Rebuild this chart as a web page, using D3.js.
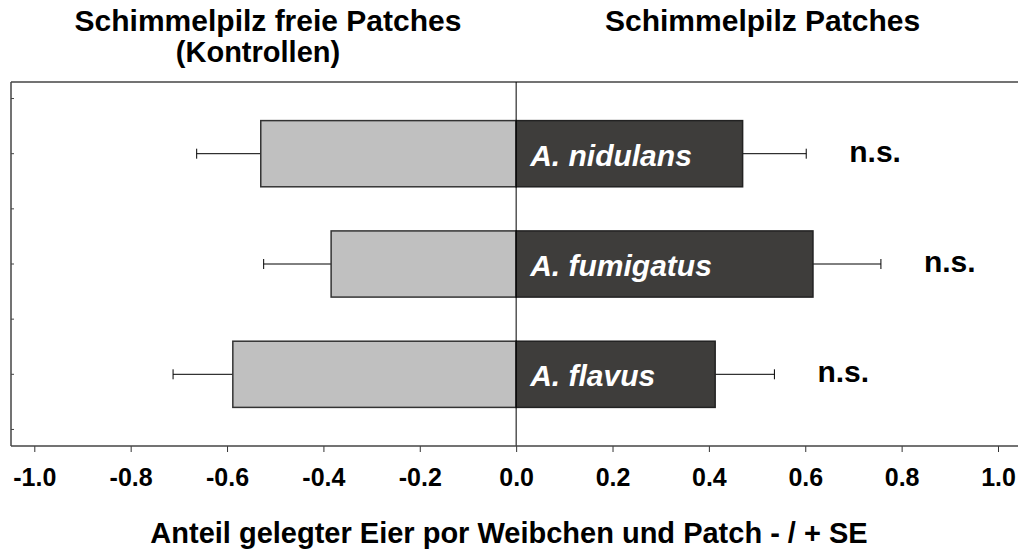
<!DOCTYPE html>
<html>
<script src="https://d3js.org/d3.v7.min.js"></script>
<style>
    body { margin: 0; background: white; }
    text { font-family: "Liberation Sans", Arial, Helvetica, sans-serif; font-weight: bold; }
</style>
<body>
<svg width="1018" height="550"></svg>
<script>
    // data
    const species = ["A. nidulans", "A. fumigatus", "A. flavus"];
    const controlMean = [-0.53, -0.384, -0.588];
    const controlSE = [0.133, 0.14, 0.124];
    const moldMean = [0.47, 0.616, 0.413];
    const moldSE = [0.132, 0.141, 0.123];
    const sigLabels = ["n.s.", "n.s.", "n.s."];
    const xTicks = [-1.0, -0.8, -0.6, -0.4, -0.2, 0.0, 0.2, 0.4, 0.6, 0.8, 1.0];

    const svg = d3.select('svg');

    const plotL = 11, plotR = 1018, plotT = 82, plotB = 446;

    const x = d3.scaleLinear().domain([-1, 1]).range([34.3, 998]);
    // rows sit at 1,2,3 on a hidden numeric axis
    const y = d3.scaleLinear().domain([0.35, 3.65]).range([plotT, plotB]);
    const barH = y(0.6) - y(0);

    const rows = species.map((s, i) => ({
        name: s, pos: i + 1,
        cm: controlMean[i], cse: controlSE[i],
        mm: moldMean[i], mse: moldSE[i],
        sig: sigLabels[i]
    }));

    // frame: top and left
    svg.append('line').attr('x1', plotL).attr('x2', plotR).attr('y1', plotT).attr('y2', plotT)
        .attr('stroke', '#444').attr('stroke-width', 1.5);
    svg.append('line').attr('x1', plotL).attr('x2', plotL).attr('y1', plotT).attr('y2', plotB)
        .attr('stroke', '#444').attr('stroke-width', 1.5);

    // left ticks (inward)
    svg.append('g').selectAll('line')
        .data([0.5, 1, 1.5, 2, 2.5, 3, 3.5])
        .enter().append('line')
        .attr('x1', plotL).attr('x2', plotL + 3)
        .attr('y1', d => y(d)).attr('y2', d => y(d))
        .attr('stroke', '#444').attr('stroke-width', 1);

    // error bars (behind bars)
    const eb = svg.append('g').attr('stroke', 'black').attr('stroke-width', 1);
    rows.forEach(d => {
        const cy = y(d.pos);
        eb.append('line').attr('x1', x(d.cm)).attr('x2', x(d.cm - d.cse)).attr('y1', cy).attr('y2', cy);
        eb.append('line').attr('x1', x(d.cm - d.cse)).attr('x2', x(d.cm - d.cse)).attr('y1', cy - 5).attr('y2', cy + 5);
        eb.append('line').attr('x1', x(d.mm)).attr('x2', x(d.mm + d.mse)).attr('y1', cy).attr('y2', cy);
        eb.append('line').attr('x1', x(d.mm + d.mse)).attr('x2', x(d.mm + d.mse)).attr('y1', cy - 5).attr('y2', cy + 5);
    });

    // control bars (light)
    svg.append('g').selectAll('rect')
        .data(rows).enter().append('rect')
        .attr('x', d => x(d.cm))
        .attr('width', d => x(0) - x(d.cm))
        .attr('y', d => y(d.pos) - barH / 2)
        .attr('height', barH)
        .attr('fill', '#c0c0c0')
        .attr('stroke', '#333').attr('stroke-width', 1.5);

    // mold bars (dark)
    svg.append('g').selectAll('rect')
        .data(rows).enter().append('rect')
        .attr('x', x(0))
        .attr('width', d => x(d.mm) - x(0))
        .attr('y', d => y(d.pos) - barH / 2)
        .attr('height', barH)
        .attr('fill', '#3e3d3b')
        .attr('stroke', '#222').attr('stroke-width', 1.5);

    // species names inside dark bars
    svg.append('g').selectAll('text')
        .data(rows).enter().append('text')
        .attr('x', x(0) + 14)
        .attr('y', d => y(d.pos) + 12)
        .attr('fill', 'white')
        .style('font-style', 'italic')
        .style('font-size', '30px')
        .text(d => d.name);

    // significance labels
    svg.append('g').selectAll('text')
        .data(rows).enter().append('text')
        .attr('x', d => x(d.mm + d.mse) + 43)
        .attr('y', d => y(d.pos) + 8)
        .style('font-size', '30px')
        .text(d => d.sig);

    // zero line
    svg.append('line').attr('x1', x(0)).attr('x2', x(0)).attr('y1', plotT).attr('y2', plotB)
        .attr('stroke', 'black').attr('stroke-width', 1);

    // x axis
    const xAxis = svg.append('g').attr('transform', 'translate(0,' + plotB + ')')
        .call(d3.axisBottom(x).tickValues(xTicks).tickSize(6).tickFormat(d => d.toFixed(1)));
    xAxis.select('.domain').remove();
    xAxis.selectAll('.tick line').attr('stroke', '#333');
    xAxis.selectAll('.tick text')
        .attr('y', 40).attr('dy', 0)
        .attr('fill', 'black')
        .style('font-size', '25px')
        .style('font-family', '"Liberation Sans", Arial, sans-serif')
        .style('font-weight', 'bold');
    svg.append('line').attr('x1', plotL).attr('x2', plotR).attr('y1', plotB).attr('y2', plotB)
        .attr('stroke', '#444').attr('stroke-width', 1.5);

    // titles
    svg.append('text').attr('x', 268).attr('y', 31).attr('text-anchor', 'middle')
        .style('font-size', '30px').text('Schimmelpilz freie Patches');
    svg.append('text').attr('x', 258).attr('y', 62).attr('text-anchor', 'middle')
        .style('font-size', '29px').text('(Kontrollen)');
    svg.append('text').attr('x', 605).attr('y', 31).attr('text-anchor', 'start')
        .style('font-size', '30px').text('Schimmelpilz Patches');

    svg.append('text').attr('x', 509).attr('y', 543).attr('text-anchor', 'middle')
        .style('font-size', '29px').text('Anteil gelegter Eier por Weibchen und Patch - / + SE');
</script>
</body>
</html>
